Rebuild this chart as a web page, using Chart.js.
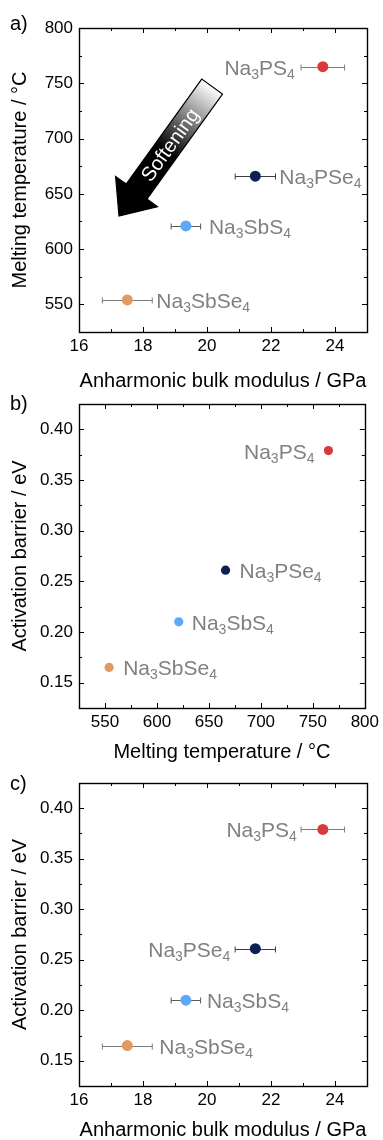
<!DOCTYPE html>
<html>
<head>
<meta charset="utf-8">
<script src="https://cdn.jsdelivr.net/npm/chart.js@4.4.0/dist/chart.umd.min.js"></script>
<style>
  html, body { margin: 0; padding: 0; background: #fff; }
  body { width: 383px; height: 1140px; position: relative; overflow: hidden; }
  .panel { position: absolute; left: 0; width: 383px; }
  .panel canvas { display: block; }
</style>
</head>
<body>
<div class="panel" id="pa" style="top:0;height:392px"><canvas id="chart-a"></canvas></div>
<div class="panel" id="pb" style="top:385px;height:380px"><canvas id="chart-b"></canvas></div>
<div class="panel" id="pc" style="top:760px;height:380px"><canvas id="chart-c"></canvas></div>
<script>
// data
const compounds = ['Na3PS4', 'Na3PSe4', 'Na3SbS4', 'Na3SbSe4'];
const bulkModulus = [23.62, 21.51, 19.34, 17.51];      // GPa
const bulkModulusErr = [0.68, 0.63, 0.46, 0.78];       // GPa, +/-
const meltingTemp = [765, 666, 621, 554];              // deg C
const activationBarrier = [0.379, 0.261, 0.210, 0.165]; // eV

const pointColors = ['#d83a3b', '#0c2152', '#5ea8f8', '#e29a62'];
const errColors = ['#7c7c7c', '#3c3c3c', '#5a5a5a', '#7c7c7c'];

// tick values
const bulkTicks = [16, 18, 20, 22, 24];
const bulkMinor = [17, 19, 21, 23];
const tempTicks = [550, 600, 650, 700, 750, 800];
const tempMinor = [575, 625, 675, 725, 775];
const barrierTicks = [0.15, 0.20, 0.25, 0.30, 0.35, 0.40];
const barrierMinor = [0.175, 0.225, 0.275, 0.325, 0.375];

// softening arrow, tail -> tip in data units of panel a
const arrowFrom = [20.16, 747];
const arrowTo = [17.25, 630];

const FONT = "'Liberation Sans', Arial, sans-serif";
const labelGrey = '#808080';

// frame with inward major/minor ticks on all four sides
const framePlugin = {
  id: 'frame',
  afterDraw(chart, args, opts) {
    const { ctx, chartArea: a, scales: { x, y } } = chart;
    ctx.save();
    ctx.strokeStyle = '#000';
    ctx.lineWidth = 1;
    ctx.beginPath();
    const mark = (v, len, horiz) => {
      if (horiz) {
        const px = Math.round(x.getPixelForValue(v)) + 0.5;
        ctx.moveTo(px, a.bottom); ctx.lineTo(px, a.bottom - len);
        ctx.moveTo(px, a.top); ctx.lineTo(px, a.top + len);
      } else {
        const py = Math.round(y.getPixelForValue(v)) + 0.5;
        ctx.moveTo(a.left, py); ctx.lineTo(a.left + len, py);
        ctx.moveTo(a.right, py); ctx.lineTo(a.right - len, py);
      }
    };
    x.ticks.forEach(t => mark(t.value, 5, true));
    y.ticks.forEach(t => mark(t.value, 5, false));
    (opts.xMinor || []).forEach(v => mark(v, 3, true));
    (opts.yMinor || []).forEach(v => mark(v, 3, false));
    ctx.stroke();
    ctx.lineWidth = 1.4;
    ctx.strokeRect(Math.round(a.left) + 0.5, Math.round(a.top) + 0.5,
      Math.round(a.right - a.left), Math.round(a.bottom - a.top));
    if (opts.tag) {
      ctx.fillStyle = '#000';
      ctx.font = '20px ' + FONT;
      ctx.textBaseline = 'alphabetic';
      ctx.fillText(opts.tag, 10, opts.tagY);
    }
    ctx.restore();
  }
};

// horizontal error bars under the points
const errorBarPlugin = {
  id: 'errbars',
  beforeDatasetsDraw(chart, args, opts) {
    if (!opts.err) return;
    const { ctx, scales: { x, y } } = chart;
    const pts = chart.data.datasets[0].data;
    ctx.save();
    ctx.lineWidth = 1;
    pts.forEach((p, i) => {
      const x0 = x.getPixelForValue(p.x - opts.err[i]);
      const x1 = x.getPixelForValue(p.x + opts.err[i]);
      const py = Math.round(y.getPixelForValue(p.y)) + 0.5;
      ctx.strokeStyle = errColors[i];
      ctx.beginPath();
      ctx.moveTo(x0, py); ctx.lineTo(x1, py);
      ctx.moveTo(x0, py - 3); ctx.lineTo(x0, py + 3);
      ctx.moveTo(x1, py - 3); ctx.lineTo(x1, py + 3);
      ctx.stroke();
    });
    ctx.restore();
  }
};

function drawFormula(ctx, text, x, y, align) {
  const parts = text.match(/\d+|\D+/g);
  const fontOf = p => (/\d/.test(p) ? '14px ' : '21px ') + FONT;
  let w = 0;
  parts.forEach(p => { ctx.font = fontOf(p); w += ctx.measureText(p).width; });
  let cx = align === 'right' ? x - w : x;
  parts.forEach(p => {
    ctx.font = fontOf(p);
    ctx.fillText(p, cx, /\d/.test(p) ? y + 4 : y);
    cx += ctx.measureText(p).width;
  });
}

// compound names next to the points
const labelPlugin = {
  id: 'names',
  afterDatasetsDraw(chart, args, opts) {
    const { ctx, scales: { x, y } } = chart;
    const pts = chart.data.datasets[0].data;
    ctx.save();
    ctx.fillStyle = labelGrey;
    ctx.textAlign = 'left';
    ctx.textBaseline = 'alphabetic';
    pts.forEach((p, i) => {
      const o = opts.place[i];
      drawFormula(ctx, compounds[i], x.getPixelForValue(p.x) + o.dx, y.getPixelForValue(p.y) + 8, o.align);
    });
    ctx.restore();
  }
};

const arrowPlugin = {
  id: 'arrow',
  afterDatasetsDraw(chart, args, opts) {
    if (!opts.show) return;
    const { ctx, scales: { x, y } } = chart;
    const tx = x.getPixelForValue(arrowFrom[0]), ty = y.getPixelForValue(arrowFrom[1]);
    const hx = x.getPixelForValue(arrowTo[0]), hy = y.getPixelForValue(arrowTo[1]);
    const len = Math.hypot(hx - tx, hy - ty);
    const ux = (hx - tx) / len, uy = (hy - ty) / len;
    const nx = -uy, ny = ux;
    const sw = 12.8, hw = 25.8, hl = 30;
    const bx = hx - ux * hl, by = hy - uy * hl;
    ctx.save();
    const g = ctx.createLinearGradient(tx, ty, hx, hy);
    g.addColorStop(0, '#ffffff');
    g.addColorStop(0.5, '#000000');
    g.addColorStop(1, '#000000');
    ctx.fillStyle = g;
    ctx.strokeStyle = '#000';
    ctx.lineWidth = 1.2;
    ctx.beginPath();
    ctx.moveTo(tx + nx * sw, ty + ny * sw);
    ctx.lineTo(bx + nx * sw, by + ny * sw);
    ctx.lineTo(bx + nx * hw, by + ny * hw);
    ctx.lineTo(hx, hy);
    ctx.lineTo(bx - nx * hw, by - ny * hw);
    ctx.lineTo(bx - nx * sw, by - ny * sw);
    ctx.lineTo(tx - nx * sw, ty - ny * sw);
    ctx.closePath();
    ctx.fill();
    ctx.stroke();
    ctx.translate(tx + ux * 72, ty + uy * 72);
    ctx.rotate(Math.atan2(-uy, -ux));
    ctx.fillStyle = '#fff';
    ctx.font = '20px ' + FONT;
    ctx.textAlign = 'center';
    ctx.textBaseline = 'middle';
    ctx.fillText('Softening', 0, 1);
    ctx.restore();
  }
};

function fixTicks(values) {
  return scale => { scale.ticks = values.map(v => ({ value: v })); };
}

function scatterPanel(id, cfg) {
  const points = cfg.xs.map((v, i) => ({ x: v, y: cfg.ys[i] }));
  new Chart(document.getElementById(id), {
    type: 'scatter',
    data: {
      datasets: [{
        data: points,
        pointBackgroundColor: pointColors,
        pointBorderWidth: 0,
        pointRadius: cfg.radius,
        pointHoverRadius: cfg.radius,
      }],
    },
    plugins: [framePlugin, errorBarPlugin, labelPlugin, arrowPlugin],
    options: {
      responsive: true,
      maintainAspectRatio: false,
      animation: false,
      events: [],
      layout: { padding: { left: 0, right: 16, top: cfg.top, bottom: 0 } },
      plugins: {
        legend: { display: false },
        tooltip: { enabled: false },
        frame: { xMinor: cfg.xMinor, yMinor: cfg.yMinor, tag: cfg.tag, tagY: cfg.tagY },
        errbars: { err: cfg.err },
        names: { place: cfg.place },
        arrow: { show: !!cfg.arrow },
      },
      scales: {
        x: {
          type: 'linear',
          min: cfg.xRange[0], max: cfg.xRange[1],
          afterBuildTicks: fixTicks(cfg.xTicks),
          afterFit: s => { s.height = cfg.xHeight; },
          grid: { display: false, drawTicks: false },
          border: { display: false },
          ticks: { color: '#000', padding: 4, maxRotation: 0, font: { family: FONT, size: 17 } },
          title: { display: true, text: cfg.xTitle, color: '#000', padding: { top: cfg.xTitlePad, bottom: cfg.xTitlePad },
                   font: { family: FONT, size: 20, lineHeight: 1 } },
        },
        y: {
          type: 'linear',
          min: cfg.yRange[0], max: cfg.yRange[1],
          afterBuildTicks: fixTicks(cfg.yTicks),
          afterFit: s => { s.width = 79; },
          grid: { display: false, drawTicks: false },
          border: { display: false },
          ticks: { color: '#000', padding: 6, font: { family: FONT, size: 17 },
                   callback: v => cfg.yFmt(v) },
          title: { display: true, text: cfg.yTitle, color: '#000', padding: { top: 10, bottom: 10 },
                   font: { family: FONT, size: 20, lineHeight: 1 } },
        },
      },
    },
  });
}

scatterPanel('chart-a', {
  xs: bulkModulus, ys: meltingTemp, err: bulkModulusErr, radius: 5.5,
  xRange: [16, 25], yRange: [525, 800],
  xTicks: bulkTicks, yTicks: tempTicks, xMinor: bulkMinor, yMinor: tempMinor,
  yFmt: v => String(v),
  xTitle: 'Anharmonic bulk modulus / GPa', yTitle: 'Melting temperature / °C',
  top: 28, xHeight: 60, xTitlePad: 1, tag: 'a)', tagY: 30, arrow: true,
  place: [{ align: 'right', dx: -28 }, { align: 'left', dx: 24 }, { align: 'left', dx: 23 }, { align: 'left', dx: 29 }],
});

scatterPanel('chart-b', {
  xs: meltingTemp, ys: activationBarrier, err: null, radius: 4.6,
  xRange: [525, 800], yRange: [0.125, 0.425],
  xTicks: tempTicks, yTicks: barrierTicks, xMinor: tempMinor, yMinor: barrierMinor,
  yFmt: v => v.toFixed(2),
  xTitle: 'Melting temperature / °C', yTitle: 'Activation barrier / eV',
  top: 19, xHeight: 57, xTitlePad: 3, tag: 'b)', tagY: 25,
  place: [{ align: 'right', dx: -14 }, { align: 'left', dx: 14 }, { align: 'left', dx: 13 }, { align: 'left', dx: 14 }],
});

scatterPanel('chart-c', {
  xs: bulkModulus, ys: activationBarrier, err: bulkModulusErr, radius: 5.5,
  xRange: [16, 25], yRange: [0.125, 0.425],
  xTicks: bulkTicks, yTicks: barrierTicks, xMinor: bulkMinor, yMinor: barrierMinor,
  yFmt: v => v.toFixed(2),
  xTitle: 'Anharmonic bulk modulus / GPa', yTitle: 'Activation barrier / eV',
  top: 23, xHeight: 54, xTitlePad: 0, tag: 'c)', tagY: 30,
  place: [{ align: 'right', dx: -26 }, { align: 'right', dx: -25 }, { align: 'left', dx: 21 }, { align: 'left', dx: 32 }],
});
</script>
</body>
</html>
